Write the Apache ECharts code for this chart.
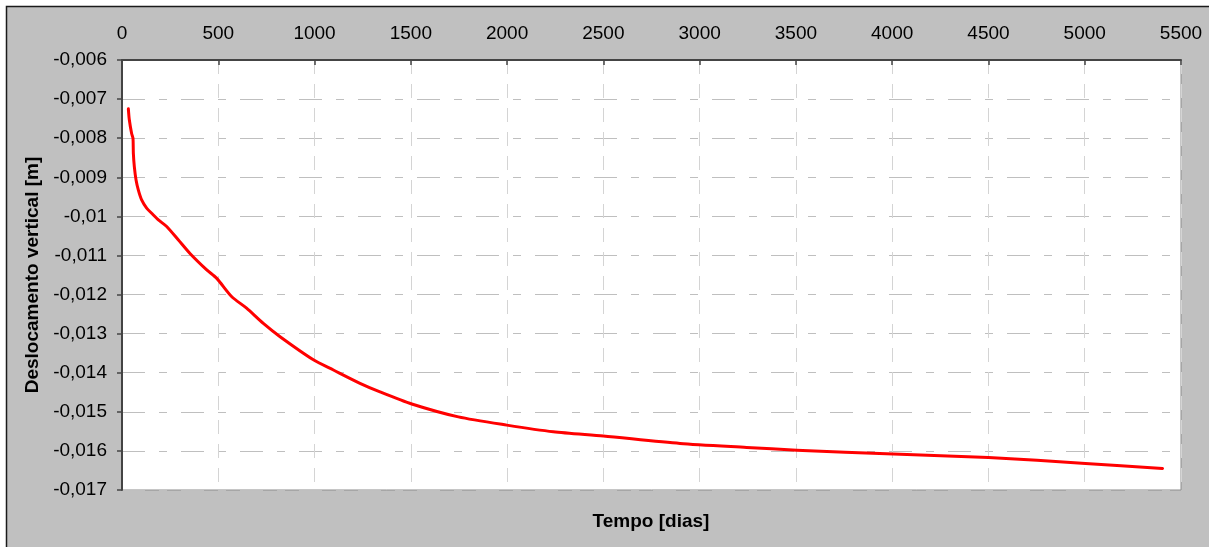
<!DOCTYPE html>
<html>
<head>
<meta charset="utf-8">
<script src="https://cdn.jsdelivr.net/npm/echarts@6/dist/echarts.min.js"></script>
<style>
html,body{margin:0;padding:0;background:#fff;}
#chart{width:1209px;height:547px;}
</style>
</head>
<body>
<div id="chart"></div>
<script>
// Data
const days = [33, 38, 50, 57, 59, 64, 73, 85, 102, 128, 154, 189, 232, 292, 353, 440, 491, 569, 647, 734, 821, 994, 1098, 1236, 1340, 1505, 1747, 1998, 2240, 2500, 2898, 3244, 3504, 4006, 4500, 5004, 5404];
const displacement = [-0.00725, -0.00753, -0.00788, -0.0080, -0.00839, -0.00873, -0.00907, -0.00933, -0.00958, -0.00979, -0.00992, -0.01009, -0.01026, -0.0106, -0.01095, -0.01137, -0.01158, -0.01205, -0.01235, -0.01274, -0.01308, -0.01367, -0.01393, -0.01427, -0.01449, -0.0148, -0.01513, -0.01534, -0.01551, -0.01562, -0.01581, -0.01591, -0.01598, -0.01608, -0.01617, -0.01632, -0.01645];
const xTicks = {min: 0, max: 5500, interval: 500};
const yTicks = {min: -0.017, max: -0.006, interval: 0.001};
const xTitle = 'Tempo [dias]';
const yTitle = 'Deslocamento vertical [m]';

const font = '"Liberation Sans", Arial, sans-serif';
const chart = echarts.init(document.getElementById('chart'));
const seriesData = days.map((d, i) => [d, displacement[i]]);

chart.setOption({
  backgroundColor: '#ffffff',
  animation: false,
  graphic: [
    {type: 'rect', z: -10, silent: true,
     shape: {x: 6.5, y: 6.5, width: 1220, height: 560},
     style: {fill: '#c0c0c0', stroke: '#1a1a1a', lineWidth: 1.5}},
    {type: 'text', x: 651, y: 522, silent: true,
     style: {text: xTitle, align: 'center', verticalAlign: 'middle',
             font: 'bold 19px ' + font, fill: '#000'}}
  ],
  grid: {
    left: 122, top: 60, right: 28, bottom: 57,
    show: true, backgroundColor: '#ffffff', borderColor: '#8c8c8c', borderWidth: 1
  },
  xAxis: {
    type: 'value', position: 'top',
    min: xTicks.min, max: xTicks.max, interval: xTicks.interval,
    axisLine: {show: true, onZero: false, lineStyle: {color: '#444', width: 2}},
    axisTick: {show: true, inside: true, length: 5, lineStyle: {color: '#444', width: 1.5}},
    axisLabel: {color: '#000', fontSize: 19, fontFamily: font, margin: 17,
      formatter: v => String(v)},
    splitLine: {show: true, lineStyle: {color: '#d4d4d4', width: 1, type: [14, 10]}}
  },
  yAxis: {
    type: 'value',
    min: yTicks.min, max: yTicks.max, interval: yTicks.interval,
    name: yTitle, nameLocation: 'middle', nameGap: 78, nameRotate: 90,
    nameTextStyle: {color: '#000', fontSize: 19, fontWeight: 'bold', fontFamily: font},
    axisLine: {show: true, onZero: false, lineStyle: {color: '#444', width: 2}},
    axisTick: {show: true, inside: false, length: 5, lineStyle: {color: '#444', width: 1.5}},
    axisLabel: {color: '#000', fontSize: 19, fontFamily: font, margin: 15,
      formatter: v => String(Number(v.toFixed(3))).replace('.', ',')},
    splitLine: {show: true, lineStyle: {color: '#bfbfbf', width: 1.2, type: [23, 14, 8, 14]}}
  },
  series: [{
    type: 'line', data: seriesData, showSymbol: false, smooth: 0.25,
    lineStyle: {color: '#ff0000', width: 3, join: 'round', cap: 'round'},
    clip: true
  }]
});
</script>
</body>
</html>
